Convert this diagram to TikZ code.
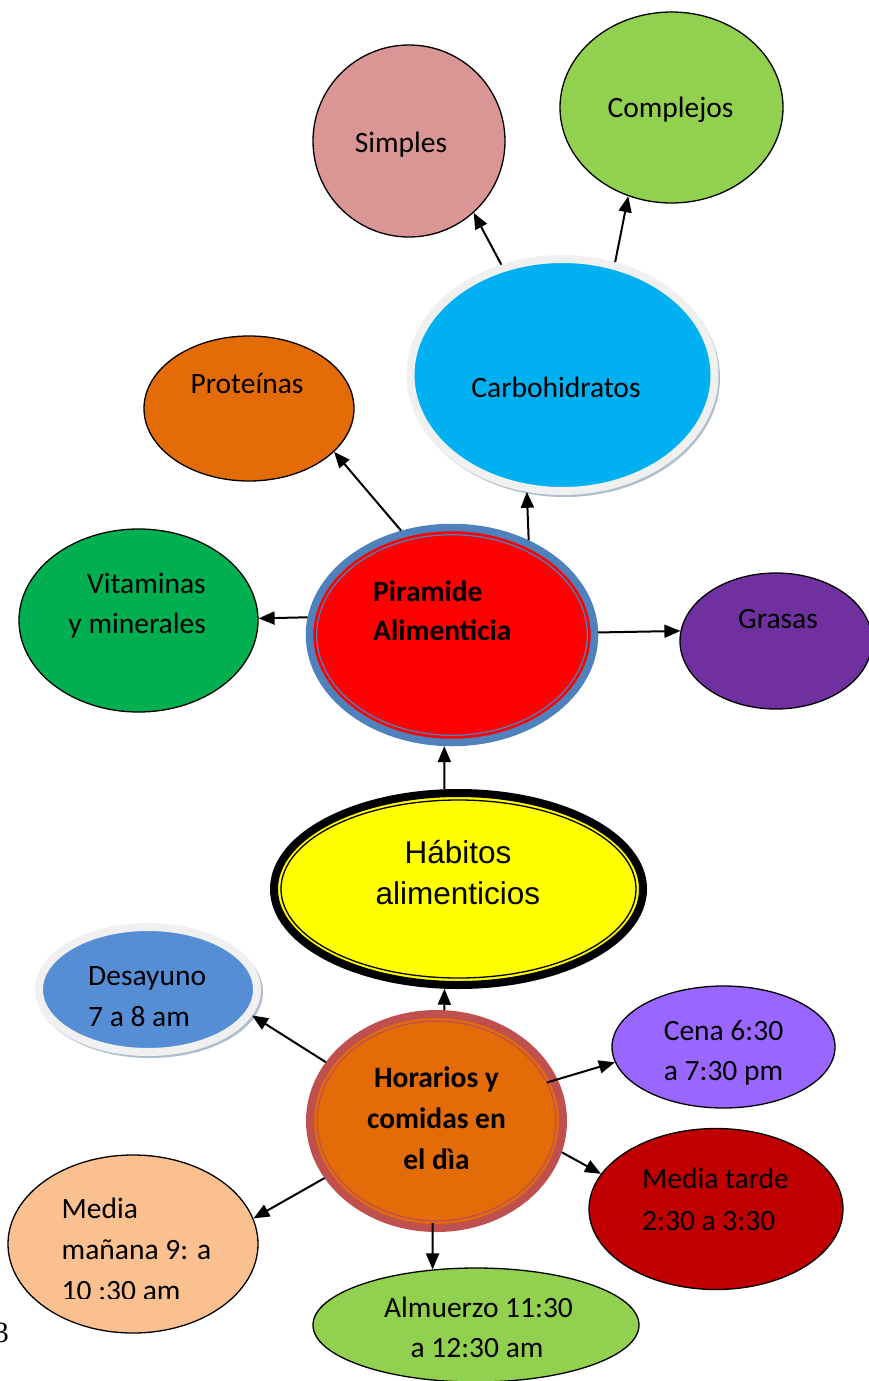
\documentclass[tikz,border=0pt]{standalone}
\usepackage{fontspec}
\setmainfont{Carlito}
\newfontfamily\arialf{Liberation Sans}
\newfontfamily\timesf{Liberation Serif}
\usetikzlibrary{shapes.geometric,arrows.meta}
\definecolor{cpink}{HTML}{D99694}
\definecolor{clime}{HTML}{92D050}
\definecolor{ccyan}{HTML}{00B0F0}
\definecolor{corange}{HTML}{E36C09}
\definecolor{cgreen}{HTML}{00B050}
\definecolor{cred}{HTML}{FF0000}
\definecolor{cblue}{HTML}{4F81BD}
\definecolor{cpurple}{HTML}{7030A0}
\definecolor{cyellow}{HTML}{FFFF00}
\definecolor{cdesay}{HTML}{558ED5}
\definecolor{cring}{HTML}{C0504D}
\definecolor{cviolet}{HTML}{9966FF}
\definecolor{cdark}{HTML}{C00000}
\definecolor{cpeach}{HTML}{FAC090}
\definecolor{cgray}{HTML}{F0F0F0}
\definecolor{cshadow}{HTML}{B0BECC}
\begin{document}
\begin{tikzpicture}[x=1pt,y=-1pt,
  bub/.style={ellipse,draw=black,line width=1.3pt,inner sep=0pt},
  lbl/.style={anchor=base,inner sep=0pt,font=\fontsize{29.5}{36}\selectfont},
  lblw/.style={lbl,anchor=base west},
  lble/.style={lbl,anchor=base east},
  con/.style={line width=2pt,-{Triangle[length=16pt,width=13pt]}}]
\useasboundingbox (0,0) rectangle (868,1381);

% top circles
\node[bub,fill=cpink,minimum width=192pt,minimum height=192pt] (S) at (409,141) {};
\node[lbl] (tS) at (401,152) {Simples};
\node[bub,fill=clime,minimum width=223pt,minimum height=191pt] (Co) at (671.5,107.5) {};
\node[lbl] (tCo) at (670.5,117) {Complejos};

% Carbohidratos
\fill[cshadow] (564.5,377.5) ellipse [x radius=155.5,y radius=119.5];
\node[ellipse,inner sep=0pt,draw=cgray,line width=8pt,fill=ccyan,minimum width=304pt,minimum height=232pt] (C) at (562.5,375) {};
\node[lbl] (tC) at (556,397) {Carbohidratos};

% Proteinas
\node[bub,fill=corange,minimum width=210pt,minimum height=145pt] (Pr) at (249,408.5) {};
\node[lbl] (tPr) at (247,393) {Proteínas};

% Vitaminas
\node[bub,fill=cgreen,minimum width=239pt,minimum height=183pt] (V) at (138.5,620.5) {};
\node[lble] (tV1) at (206,593) {Vitaminas};
\node[lble] (tV2) at (206,633.5) {y minerales};

% Piramide
\node[ellipse,inner sep=0pt,draw=cblue,line width=7.5pt,fill=cred,minimum width=285pt,minimum height=215pt] (P) at (452,635) {};
\draw[cblue,line width=1.3pt] (P.center) ellipse [x radius=135.3,y radius=100.3];
\node[lblw,font=\fontsize{29.5}{36}\selectfont\bfseries] (tP1) at (373,601) {Piramide};
\node[lblw,font=\fontsize{29.5}{36}\selectfont\bfseries] (tP2) at (373,640.5) {Alimenticia};

% Grasas
\node[bub,fill=cpurple,minimum width=192pt,minimum height=136pt] (G) at (776,641) {};
\node[lbl] (tG) at (778,628.5) {Grasas};

% Habitos
\node[ellipse,inner sep=0pt,draw=black,line width=8pt,fill=cyellow,minimum width=369pt,minimum height=192pt] (H) at (458.5,889) {};
\draw[black,line width=1.3pt] (H.center) ellipse [x radius=177.5,y radius=89];
\node[lbl,font=\arialf\fontsize{31.5}{36}\selectfont] (tH1) at (458,863.5) {Hábitos};
\node[lbl,font=\arialf\fontsize{31.5}{36}\selectfont] (tH2) at (458,904.5) {alimenticios};

% Desayuno
\fill[cshadow] (150,992) ellipse [x radius=113,y radius=66];
\node[ellipse,inner sep=0pt,draw=cgray,line width=8pt,fill=cdesay,minimum width=218pt,minimum height=125pt] (D) at (148,989.5) {};
\node[lblw] (tD1) at (88,985) {Desayuno};
\node[lblw] (tD2) at (88,1026.5) {7 a 8 am};

% Horarios
\node[ellipse,inner sep=0pt,draw=cring,line width=8pt,fill=corange,minimum width=253pt,minimum height=214pt] (Ho) at (436.5,1121) {};
\draw[cring,line width=1.3pt] (Ho.center) ellipse [x radius=119.35,y radius=99.85];
\node[lbl,font=\fontsize{29.5}{36}\selectfont\bfseries] (tHo1) at (436.5,1087.5) {Horarios y};
\node[lbl,font=\fontsize{29.5}{36}\selectfont\bfseries] (tHo2) at (436.5,1128.5) {comidas en};
\node[lbl,font=\fontsize{29.5}{36}\selectfont\bfseries] (tHo3) at (436.5,1169.5) {el dìa};

% Cena
\node[bub,fill=cviolet,minimum width=223pt,minimum height=122pt] (Ce) at (723.5,1047) {};
\node[lbl] (tCe1) at (723.5,1040) {Cena 6:30};
\node[lbl] (tCe2) at (723.5,1080) {a 7:30 pm};

% Media tarde
\node[bub,fill=cdark,minimum width=254pt,minimum height=161pt] (MT) at (716,1209) {};
\node[lblw] (tMT1) at (642,1188.5) {Media tarde};
\node[lblw] (tMT2) at (642,1230) {2:30 a 3:30};

% Media manana
\node[bub,fill=cpeach,minimum width=250pt,minimum height=178pt] (MM) at (133,1244) {};
\node[lblw] (tMM1) at (61.5,1218.5) {Media};
\node[lblw] (tMM2) at (61.5,1259.5) {mañana 9: a};
\begin{scope}
\clip (0,1150) rectangle (300,1298.5);
\node[lblw] (tMM3) at (61.5,1300) {10 :30 am};
\end{scope}

% Almuerzo
\node[bub,fill=clime,minimum width=326pt,minimum height=114pt] (A) at (476,1325) {};
\node[lbl] (tA1) at (478.5,1317) {Almuerzo 11:30};
\node[lbl] (tA2) at (477,1357) {a 12:30 am};

% page number
\node[anchor=base east,inner sep=0pt,font=\timesf\fontsize{29.5}{36}\selectfont] (pg) at (9,1342) {3};

% connectors
\draw[con] (P.116.4) -- (Pr.-27.4);
\draw[con] (P.51) -- (C.-107);
\draw[con] (C.119.6) -- (S.-48.8);
\draw[con] (C.65.9) -- (Co.-116.4);
\draw[con] (P.173.6) -- (V.1.2);
\draw[con] (P.1.2) -- (G.174.6);
\draw[con] (H.98.3) -- (P.-94.2);
\draw[con] (Ho.86.1) -- (H.-98.3);
\draw[con] (Ho.152.5) -- (D.-14.9);
\draw[con,shorten <=-11pt] (Ho.19.2) -- (Ce.-172.8);
\draw[con] (Ho.-14.3) -- (MT.163.9);
\draw[con] (Ho.-153.3) -- (MM.12.8);
\draw[con,shorten <=-9pt] (Ho.-92) -- (A.128.7);
\end{tikzpicture}
\end{document}
